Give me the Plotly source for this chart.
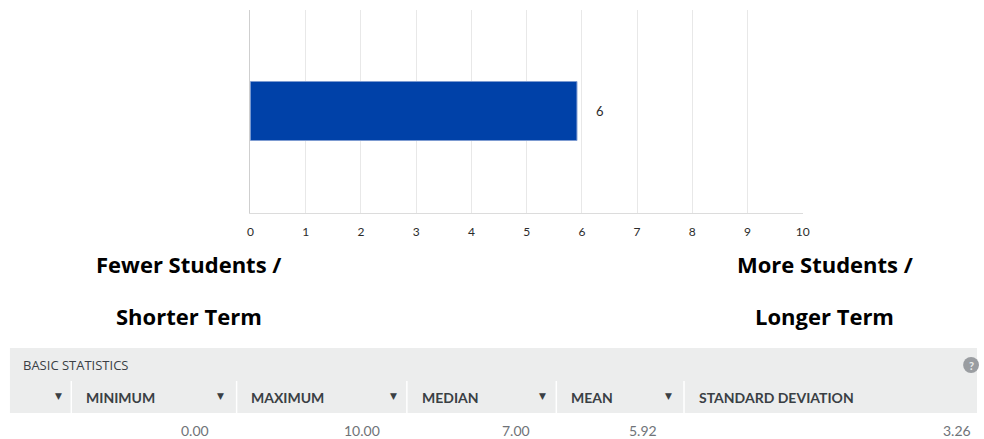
import plotly.graph_objects as go

# Chart data
categories = ["Score"]
values = [5.92]
x_ticks = list(range(0, 11))

# Basic statistics table
stat_headers = ["MINIMUM", "MAXIMUM", "MEDIAN", "MEAN", "STANDARD DEVIATION"]
stat_values = ["0.00", "10.00", "7.00", "5.92", "3.26"]

W, H = 984, 439


def px(x):
    return x / W


def py(y):
    return 1 - y / H


fig = go.Figure()
fig.add_trace(go.Bar(
    x=values,
    y=[0],
    orientation="h",
    width=0.295,
    marker=dict(color="#0041a8", line=dict(color="#7d9bd1", width=1)),
    hoverinfo="skip",
))

# value label to the right of the bar
for v in values:
    fig.add_annotation(x=v, y=0, xref="x", yref="y", text=f"{v:.0f}",
                       showarrow=False, xanchor="left", xshift=17,
                       font=dict(family="Lato", size=13, color="#2b2b2b"))

annotations = []
shapes = []

# end labels under the axis
label_font = dict(family="Open Sans", size=22, color="#000000")
for text, x, y in [("<b>Fewer Students /</b>", 187, 264), ("<b>Shorter Term</b>", 188, 316),
                   ("<b>More Students /</b>", 830, 264), ("<b>Longer Term</b>", 830, 316)]:
    annotations.append(dict(text=text, x=px(x), y=py(y), xref="paper", yref="paper",
                            showarrow=False, xanchor="center", yanchor="middle", font=label_font))

# grey statistics panel
shapes.append(dict(type="rect", xref="paper", yref="paper", x0=px(7), x1=px(984),
                   y0=py(413), y1=py(348), fillcolor="#eceded", line=dict(width=0), layer="below"))
annotations.append(dict(text="BASIC STATISTICS", x=px(18), y=py(365), xref="paper", yref="paper",
                        showarrow=False, xanchor="left", yanchor="middle",
                        font=dict(family="Open Sans", size=13, color="#3a3f44")))
# help icon
shapes.append(dict(type="circle", xref="paper", yref="paper", x0=px(970), x1=px(986),
                   y0=py(373), y1=py(357), fillcolor="#9a9da1", line=dict(width=0)))
annotations.append(dict(text="<b>?</b>", x=px(978), y=py(365), xref="paper", yref="paper",
                        showarrow=False, xanchor="center", yanchor="middle",
                        font=dict(family="Lato", size=11, color="#eceded")))

dividers = [69, 236, 408, 559, 688]
arrows = [56, 220, 395, 545, 672]
header_font = dict(family="Lato", size=14, color="#3a3f44")
for xd in dividers:
    shapes.append(dict(type="line", xref="paper", yref="paper", x0=px(xd), x1=px(xd),
                       y0=py(381), y1=py(413), line=dict(color="#ffffff", width=1.5)))
for xa in arrows:
    annotations.append(dict(text="▼", x=px(xa), y=py(396), xref="paper", yref="paper",
                            showarrow=False, xanchor="center", yanchor="middle",
                            font=dict(family="DejaVu Sans", size=9, color="#3a3f44")))
for xd, h in zip(dividers, stat_headers):
    annotations.append(dict(text=f"<b>{h}</b>", x=px(xd + 13), y=py(397), xref="paper", yref="paper",
                            showarrow=False, xanchor="left", yanchor="middle", font=header_font))

value_right = [210, 383, 534, 663, 980]
for xr, v in zip(value_right, stat_values):
    annotations.append(dict(text=v, x=px(xr), y=py(430), xref="paper", yref="paper",
                            showarrow=False, xanchor="right", yanchor="middle",
                            font=dict(family="Lato", size=14, color="#6f7378")))

fig.update_layout(
    width=W, height=H, autosize=False,
    margin=dict(l=0, r=0, t=0, b=0, pad=0),
    paper_bgcolor="#ffffff", plot_bgcolor="#ffffff",
    showlegend=False,
    annotations=fig.layout.annotations + tuple(annotations),
    shapes=shapes,
    bargap=0,
)
fig.update_xaxes(
    domain=[px(250), px(808)], range=[0, 10], tickvals=x_ticks,
    showgrid=True, gridcolor="#e8e8e8", gridwidth=1,
    zeroline=False, showline=True, linecolor="#dcdcdc", linewidth=1,
    ticks="", ticklabelstandoff=8,
    tickfont=dict(family="Lato", size=12, color="#2b2b2b"),
)
fig.update_yaxes(
    domain=[py(213), py(10)], range=[-0.5, 0.5],
    showgrid=False, zeroline=False, showticklabels=False,
    showline=True, linecolor="#cfcfcf", linewidth=1,
)

fig.write_html("out.html", config={"displayModeBar": False, "responsive": False})
